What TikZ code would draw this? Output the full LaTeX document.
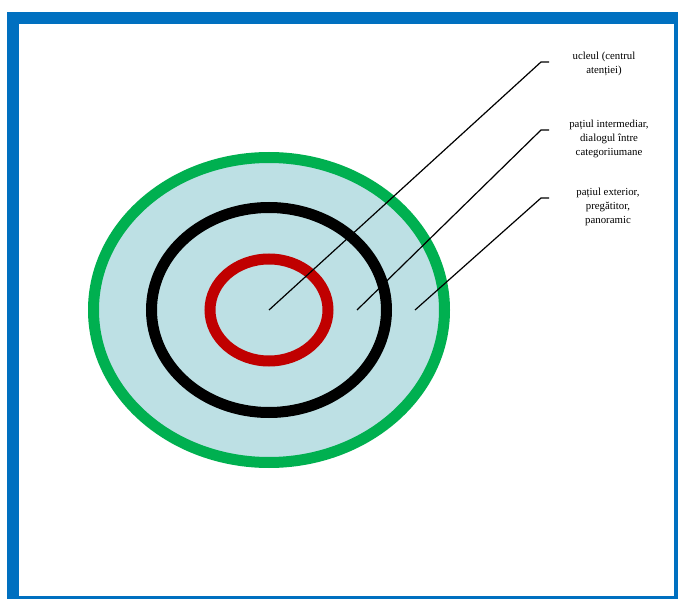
\documentclass[tikz,border=0pt]{standalone}
\usepackage{fontspec}
\setmainfont{Liberation Serif}
\usepackage{xcolor}
\usetikzlibrary{positioning,calc}

\definecolor{frameblue}{RGB}{0,112,192}
\definecolor{ringgreen}{RGB}{0,176,80}
\definecolor{ringred}{RGB}{192,0,0}
\definecolor{fieldblue}{RGB}{189,224,228}

\begin{document}
\begin{tikzpicture}[x=1pt,y=-1pt,font=\fontsize{10.8}{13.6}\selectfont]
\tikzset{ring/.style={line width=11pt},
  lbl/.style={align=center,inner sep=0pt},
  lead/.style={line width=1.2pt}}
\useasboundingbox (0,0) rectangle (678,599);
% frame
\fill[frameblue] (7,12) rectangle (678,599);
\fill[white] (19,24) rectangle (674,596);
% rings
\fill[fieldblue] (269,310) ellipse [x radius=175.5,y radius=152.5];
\draw[ring,ringgreen] (269,310) ellipse [x radius=175.5,y radius=152.5];
\draw[ring,black] (269,310) ellipse [x radius=117.5,y radius=102.5];
\draw[ring,ringred] (269,310) ellipse [x radius=59,y radius=51];
% labels
\node[lbl] (nucleu) at (604,64) {ucleul (centrul\\atenției)};
\node[lbl] (mediu) at (609,139) {pațiul intermediar,\\dialogul între\\categoriiumane};
\node[lbl] (exterior) at (608,207) {pațiul exterior,\\pregătitor,\\panoramic};
\coordinate (c1) at (269,310);
\coordinate (c2) at (357,310);
\coordinate (c3) at (415,310);
\coordinate (k1) at (541,62);
\coordinate (k2) at (541,130);
\coordinate (k3) at (541,198);
\draw[lead] (c1) -- (k1) -- ++(8,0);
\draw[lead] (c2) -- (k2) -- ++(8,0);
\draw[lead] (c3) -- (k3) -- ++(8,0);
\end{tikzpicture}
\end{document}
